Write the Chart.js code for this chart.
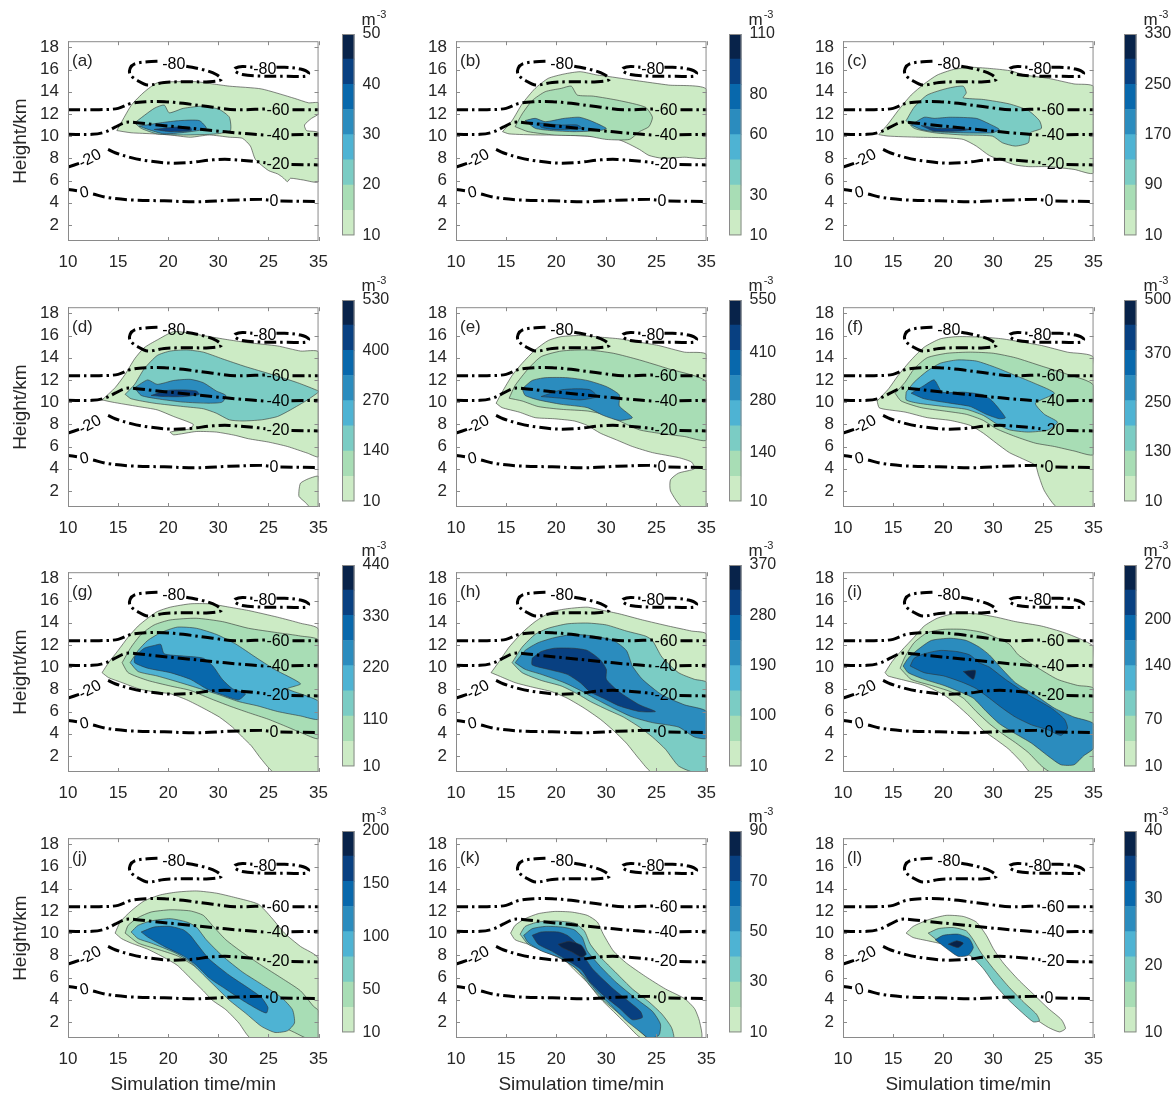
<!DOCTYPE html>
<html>
<head>
<meta charset="utf-8">
<script src="https://cdn.jsdelivr.net/npm/chart.js@4.4.1/dist/chart.umd.min.js"></script>
<style>
  body { margin: 0; background: #fff; width: 1175px; height: 1094px; position: relative; overflow: hidden; }
</style>
</head>
<body>
<script>
// axes
const xTickVals = [10, 15, 20, 25, 30, 35];
const xTickText = ['10', '15', '20', '30', '25', '35']; // printed as in the figure
const yTickVals = [2, 4, 6, 8, 10, 12, 14, 16, 18];
const gnbu = ['#ccebc5', '#a8ddb5', '#7bccc4', '#4eb3d3', '#2b8cbe', '#0868ac', '#084081', '#08234a'];

// isotherms (deg C), flat x,y lists in minutes / km, broken where the labels sit
const iso0L = [10, 5.2, 10.9, 5.08];
const iso0M = [12.5, 4.78, 14.0, 4.46, 16.3, 4.25, 19.6, 4.17, 22.8, 4.08, 26.1, 4.22, 29.3, 4.3, 30.0, 4.25];
const iso0R = [31.2, 4.15, 35, 4.11];
const iso20L = [10, 7.2, 11.1, 7.55];
const iso20M = [14.0, 8.8, 14.7, 8.5, 16.3, 8.06, 17.95, 7.77, 20.2, 7.57, 22.2, 7.63, 24.45, 7.86, 26.1, 7.9, 29.0, 7.68, 29.7, 7.6];
const iso20R = [32.3, 7.45, 35, 7.4];
const iso40L = [10, 10.16, 12.4, 10.16, 13.7, 10.36, 14.7, 10.8, 15.7, 11.23, 16.65, 11.23, 18.6, 11.03, 21.2, 10.8, 24.45, 10.5, 27.0, 10.28, 29.6, 10.1];
const iso40R = [32.3, 10.12, 35, 10.16];
const iso60L = [10, 12.38, 13.1, 12.38, 15.0, 12.5, 16.3, 12.95, 17.95, 13.1, 19.6, 13.1, 21.5, 12.95, 24.45, 12.6, 26.7, 12.38, 29.7, 12.45];
const iso60R = [32.4, 12.38, 35, 12.38];
const iso80A = [21.8, 16.3, 23.5, 15.98, 24.8, 15.55, 25.3, 15.1, 24.1, 14.9, 21.5, 14.9, 19.6, 14.83, 17.95, 14.6, 17.0, 14.97, 16.2, 15.55, 16.2, 16.1, 16.65, 16.5, 17.95, 16.7, 19.3, 16.75];
const iso80B = [30.8, 16.2, 31.6, 16.2, 33.2, 16.04, 34.0, 15.7, 33.8, 15.4, 31.9, 15.4, 29.3, 15.4, 27.4, 15.55, 26.6, 15.9, 26.7, 16.13, 27.4, 16.27, 28.4, 16.2];
const isoLines = [iso0L, iso0M, iso0R, iso20L, iso20M, iso20R, iso40L, iso40R, iso60L, iso60R, iso80A, iso80B];
const isoLabels = [
  ['-80', 20.55, 16.4, 0], ['-80', 29.64, 15.95, 0], ['-60', 30.95, 12.3, 0],
  ['-40', 30.95, 10.05, 0], ['-20', 30.95, 7.4, 0], ['0', 30.55, 4.1, 0],
  ['-20', 12.2, 7.95, -28], ['0', 11.65, 4.9, -12]
];

// colorbar ticks (m^-3)
const ticksA = [10, 20, 30, 40, 50];
const ticksB = [10, 30, 60, 80, 110];
const ticksC = [10, 90, 170, 250, 330];
const ticksD = [10, 140, 270, 400, 530];
const ticksE = [10, 140, 280, 410, 550];
const ticksF = [10, 130, 250, 370, 500];
const ticksG = [10, 110, 220, 330, 440];
const ticksH = [10, 100, 190, 280, 370];
const ticksI = [10, 70, 140, 200, 270];
const ticksJ = [10, 50, 100, 150, 200];
const ticksK = [10, 30, 50, 70, 90];
const ticksL = [10, 20, 30, 40];

// filled contours: one outline per level, x,y pairs
const levelsA = [10, 20, 30, 40];
const shapesA = [
  [14.87, 10.5, 16.33, 12.8, 17.6, 13.97, 18.9, 14.8, 20.55, 14.9, 22.8, 14.9, 24.45, 14.7, 26.1, 14.5, 29.3, 14.25, 32.6, 13.4, 34.0, 13.0, 35, 13.0, 35, 12.0, 34.3, 11.6, 33.6, 11.0, 33.8, 10.5, 35, 10.3, 35, 5.9, 33.5, 6.04, 32.2, 6.2, 31.9, 5.9, 31.4, 6.3, 30.9, 6.6, 30, 6.9, 28.7, 7.9, 28.2, 9.1, 27.4, 9.8, 26.1, 9.9, 24.1, 10.1, 22.2, 9.9, 20.2, 10.1, 18.6, 10.2, 16.3, 10.3],
  [16.65, 11.2, 18.6, 12.5, 19.6, 12.8, 20.1, 12.1, 21.5, 12.5, 23.5, 12.7, 25.1, 12.4, 26.1, 11.7, 26.2, 10.5, 24.8, 10.2, 21.5, 10.1, 18.9, 10.2, 17.3, 10.7],
  [17.1, 10.9, 19.25, 11.2, 21.2, 11.4, 23.1, 11.4, 23.8, 10.7, 22.2, 10.4, 19.6, 10.2, 18.0, 10.6],
  [18.6, 10.6, 20.55, 10.8, 22.2, 10.8, 22.3, 10.5, 20.2, 10.4]
];
const levelsB = [10, 30, 60, 80];
const shapesB = [
  [14.64, 10.4, 15.6, 11.4, 16.6, 12.9, 17.9, 14.3, 19.2, 15.2, 20.8, 15.6, 22.4, 15.8, 24.1, 15.5, 25.0, 15.4, 28, 15.0, 31.2, 14.6, 35, 14.2, 35, 8.1, 32.8, 8.1, 30.6, 8.0, 29.25, 8.26, 28.3, 8.8, 27.0, 9.4, 25.7, 9.85, 23.1, 10.0, 20.5, 10.1, 18.2, 10.1, 15.3, 10.2],
  [15.9, 10.85, 16.6, 12.0, 17.6, 13.2, 18.9, 14.0, 20.5, 14.3, 21.5, 14.5, 22.1, 13.7, 23.7, 13.6, 26.3, 13.2, 28.9, 12.6, 29.6, 11.7, 29.25, 10.85, 28.3, 10.4, 27.3, 9.7, 25.0, 9.7, 23.1, 10.0, 19.8, 10.1, 17.2, 10.4],
  [16.9, 11.4, 17.9, 11.6, 18.9, 11.3, 20.8, 11.6, 22.3, 11.7, 23.4, 11.4, 25.0, 10.7, 24.4, 10.5, 21.8, 10.4, 19.5, 10.5, 17.9, 10.7],
  [18.2, 11.2, 20.5, 11.0, 22.1, 11.0, 22.6, 10.7, 19.8, 10.6, 18.5, 10.8]
];
const levelsC = [10, 90, 170, 250];
const shapesC = [
  [13.57, 10.13, 14.5, 11.1, 15.5, 12.3, 16.8, 13.7, 18.1, 14.7, 19.4, 15.5, 21.0, 16.0, 22.7, 16.2, 24.6, 16.1, 26.6, 15.9, 28.2, 15.5, 30.5, 15.2, 33.05, 14.7, 35, 14.45, 35, 6.7, 33.05, 7.0, 30.5, 7.25, 28.5, 7.25, 27.2, 7.4, 25.9, 7.8, 24.6, 8.25, 23.3, 9.1, 22.0, 9.7, 20.1, 9.85, 17.5, 9.9, 14.5, 10.0],
  [16.3, 11.4, 17.1, 12.6, 18.4, 13.7, 20.4, 14.3, 22.0, 14.5, 22.3, 13.9, 22.0, 13.45, 24.0, 13.3, 26.6, 12.9, 28.5, 12.3, 29.6, 11.4, 29.8, 10.7, 28.7, 10.3, 28.5, 9.4, 27.2, 9.1, 25.9, 9.4, 24.9, 10.0, 22.0, 10.1, 19.1, 10.3, 17.1, 10.7],
  [16.8, 11.0, 18.1, 11.7, 19.1, 11.6, 20.7, 11.7, 23.3, 11.6, 24.6, 11.1, 25.6, 10.6, 24.9, 10.3, 22.0, 10.3, 19.1, 10.4, 17.8, 10.6],
  [17.8, 10.95, 19.4, 10.7, 21.4, 10.7, 22.7, 10.6, 21.4, 10.45, 19.1, 10.45]
];
const levelsD = [10, 10, 140, 270, 400];
const shapesD = [
  [13.4, 10.2, 14.7, 11.3, 15.7, 12.5, 16.65, 13.9, 17.6, 14.9, 18.9, 15.6, 20.55, 16.35, 22.2, 16.2, 24.1, 15.9, 26.1, 15.6, 28.0, 15.35, 30.9, 15.06, 33.2, 14.6, 35, 14.5, 35, 5.1, 33.9, 5.4, 31.9, 6.0, 30.0, 6.4, 28.0, 6.7, 26.7, 7.0, 24.8, 7.3, 22.8, 7.35, 20.55, 7.05, 20.2, 7.3, 22.2, 7.6, 22.5, 8.0, 20.55, 8.7, 18.9, 9.3, 17.0, 9.6, 14.4, 10.0],
  [33.05, 2.1, 33.2, 2.7, 34.0, 3.1, 35, 3.3, 35, 0.5, 34.2, 0.5, 33.7, 0.95, 33.05, 1.5],
  [15.7, 10.7, 16.65, 11.6, 17.6, 13.0, 18.9, 14.2, 20.2, 14.6, 21.85, 14.7, 23.5, 14.5, 25.4, 13.9, 27.7, 13.2, 30.3, 12.5, 32.9, 11.75, 35, 11.0, 35, 10.9, 33.9, 10.2, 32.2, 9.3, 30.9, 8.7, 29.3, 8.4, 27.4, 8.3, 26.1, 8.4, 24.8, 9.0, 23.5, 9.4, 21.5, 9.6, 18.6, 9.9, 16.3, 10.3],
  [16.65, 11.3, 17.95, 12.0, 18.9, 11.6, 20.55, 11.95, 22.2, 12.05, 23.5, 11.75, 24.8, 11.0, 25.75, 10.6, 25.4, 10.0, 24.1, 9.9, 21.5, 10.0, 18.9, 10.3, 17.3, 10.6],
  [18.3, 10.6, 19.9, 11.05, 21.5, 11.1, 22.8, 11.0, 23.1, 10.7, 21.5, 10.5, 19.6, 10.5]
];
const levelsE = [10, 140, 280, 410];
const shapesE = [
  [14.0, 9.9, 14.6, 10.9, 15.6, 12.4, 16.6, 13.5, 17.9, 14.7, 19.2, 15.55, 20.5, 15.9, 22.4, 16.0, 24.4, 15.85, 26.3, 15.7, 28.3, 15.4, 30.2, 15.1, 32.8, 14.5, 35, 14.25, 35, 0.5, 32.6, 0.5, 31.4, 2.0, 31.4, 3.0, 32.2, 3.6, 33.8, 4.0, 33.5, 4.6, 32.2, 5.0, 29.6, 5.45, 27.6, 6.0, 26.0, 6.6, 24.4, 7.2, 23.1, 7.9, 21.8, 8.3, 19.8, 8.5, 17.9, 8.6, 16.3, 9.1, 14.6, 9.5],
  [15.3, 10.35, 15.9, 11.5, 17.2, 13.0, 18.5, 14.1, 20.5, 14.6, 23.1, 14.7, 25.7, 14.4, 28.3, 13.8, 31.2, 13.0, 35, 11.8, 35, 6.6, 32.8, 6.9, 30.2, 7.2, 28.3, 7.5, 26.3, 8.3, 24.7, 8.9, 23.1, 9.2, 20.5, 9.35, 18.2, 9.6, 16.6, 10.1],
  [16.6, 11.2, 17.6, 11.95, 18.9, 12.2, 21.1, 12.2, 23.1, 11.95, 25.0, 11.4, 26.3, 10.65, 26.3, 9.65, 27.6, 8.6, 26.3, 8.35, 24.7, 8.8, 23.1, 9.5, 20.5, 9.8, 18.2, 10.2, 16.9, 10.6],
  [18.5, 10.5, 20.5, 11.1, 22.1, 11.2, 23.4, 11.1, 24.1, 10.5, 22.4, 10.2, 20.5, 10.35]
];
const levelsF = [10, 130, 250, 370];
const shapesF = [
  [13.4, 10.1, 14.55, 11.2, 15.5, 12.4, 16.8, 13.8, 18.1, 14.95, 19.7, 15.7, 21.4, 15.9, 24.0, 15.85, 25.9, 15.7, 27.9, 15.4, 29.8, 15.1, 32.4, 14.5, 35, 14.0, 35, 0.5, 31.4, 0.5, 30.1, 2.0, 29.5, 3.45, 29.2, 4.3, 27.9, 4.9, 26.6, 5.45, 25.3, 6.3, 24.0, 7.2, 22.7, 7.9, 20.7, 8.35, 18.4, 8.6, 16.2, 9.1, 14.2, 9.35, 13.6, 9.5],
  [15.2, 10.8, 16.2, 11.8, 17.1, 13.0, 18.4, 14.0, 20.4, 14.4, 22.7, 14.5, 25.0, 14.4, 27.2, 14.0, 29.8, 13.25, 32.4, 12.5, 35, 11.5, 35, 5.3, 33.05, 5.6, 31.1, 6.0, 29.2, 6.3, 27.2, 6.9, 25.3, 7.6, 24.0, 8.35, 22.3, 8.9, 20.1, 9.2, 17.8, 9.5, 15.8, 10.1],
  [16.3, 10.9, 17.1, 11.8, 18.4, 12.8, 19.7, 13.5, 21.4, 13.8, 23.3, 13.7, 25.3, 13.1, 27.2, 12.4, 29.2, 11.66, 31.1, 10.8, 29.2, 9.9, 30.1, 8.9, 31.4, 8.2, 30.5, 7.5, 28.5, 7.3, 26.6, 7.5, 25.3, 8.06, 24.0, 8.8, 22.3, 9.35, 20.1, 9.6, 17.5, 9.9, 16.3, 10.2],
  [16.8, 10.8, 18.1, 11.5, 19.1, 12.0, 19.9, 10.9, 22.0, 10.9, 24.0, 10.65, 24.9, 10.1, 26.2, 8.6, 25.6, 8.5, 24.3, 8.9, 22.7, 9.6, 20.7, 9.9, 18.1, 10.3]
];
const levelsG = [10, 110, 220, 330];
const shapesG = [
  [13.4, 9.5, 14.05, 10.4, 15.0, 11.5, 16.0, 12.7, 17.0, 13.7, 17.95, 14.4, 18.9, 15.0, 20.2, 15.4, 22.2, 15.7, 24.1, 15.7, 26.1, 15.4, 28.0, 15.1, 30.9, 14.5, 33.2, 13.95, 35, 13.4, 35, 0.5, 30.6, 0.5, 29.3, 1.7, 28.3, 2.9, 27.4, 3.7, 26.4, 4.6, 25.1, 5.5, 23.5, 6.3, 21.85, 7.05, 20.2, 7.6, 18.6, 7.76, 17.0, 8.06, 15.4, 8.6, 14.05, 9.05],
  [15.4, 10.4, 16.3, 11.8, 17.3, 12.95, 18.6, 13.8, 20.2, 14.25, 22.8, 14.4, 25.4, 14.1, 28.0, 13.5, 30.9, 13.1, 33.2, 12.8, 35, 12.4, 35, 3.6, 33.5, 4.0, 31.9, 4.6, 30.0, 5.3, 28.0, 5.9, 26.1, 6.5, 24.1, 7.2, 22.2, 7.9, 20.2, 8.3, 17.95, 8.8, 16.0, 9.5],
  [16.2, 10.4, 17.0, 11.5, 17.95, 12.4, 19.25, 13.1, 20.9, 13.6, 22.8, 13.5, 24.8, 12.95, 26.7, 12.1, 28.7, 10.9, 30.6, 9.8, 33.2, 8.5, 31.9, 8.05, 33.5, 7.5, 35, 6.9, 35, 5.3, 33.2, 5.6, 30.9, 6.0, 28.95, 6.5, 27.0, 6.9, 25.1, 7.5, 23.15, 8.06, 21.2, 8.6, 18.9, 9.2, 17.0, 9.6],
  [16.65, 10.95, 17.6, 11.7, 18.6, 11.95, 19.25, 12.05, 19.6, 11.2, 21.5, 11.0, 23.5, 10.8, 24.45, 10.1, 25.4, 8.9, 26.4, 8.06, 27.7, 7.6, 27.0, 7.05, 25.4, 7.5, 23.8, 8.06, 22.2, 8.9, 20.2, 9.5, 17.95, 9.9, 16.65, 10.4]
];
const levelsH = [10, 100, 190, 280];
const shapesH = [
  [13.5, 9.5, 14.3, 10.5, 15.3, 11.8, 16.6, 13.1, 17.9, 14.1, 19.5, 14.97, 21.1, 15.26, 23.1, 15.4, 24.7, 15.1, 26.3, 14.8, 28.6, 14.25, 31.2, 13.7, 33.5, 13.25, 35, 12.95, 35, 0.5, 29.6, 0.5, 28.3, 1.7, 27.0, 3.15, 25.7, 4.3, 24.4, 5.3, 22.8, 6.3, 21.1, 7.2, 19.5, 7.8, 17.6, 8.2, 15.9, 8.6, 14.3, 9.2],
  [15.6, 10.4, 16.6, 11.8, 17.9, 12.95, 19.2, 13.5, 21.1, 13.9, 23.1, 13.97, 25.0, 13.8, 27.0, 13.25, 28.9, 12.8, 29.6, 12.4, 30.55, 10.9, 32.2, 9.5, 33.8, 8.9, 35, 8.6, 35, 0.7, 33.8, 0.5, 32.2, 1.1, 30.9, 2.6, 29.6, 3.7, 28.3, 4.6, 26.7, 5.5, 25.0, 6.2, 23.4, 6.9, 22.1, 7.6, 20.5, 8.3, 18.5, 8.8, 16.6, 9.5],
  [15.9, 10.4, 16.9, 11.5, 18.2, 12.2, 19.8, 12.65, 21.7, 12.95, 23.7, 12.8, 25.7, 12.4, 27.0, 11.5, 27.6, 10.1, 28.6, 8.9, 30.55, 7.5, 32.8, 6.6, 35, 6.0, 35, 3.6, 33.8, 3.7, 32.2, 4.6, 29.6, 5.0, 27.6, 5.5, 25.7, 6.3, 24.1, 7.05, 22.4, 7.9, 20.8, 8.6, 18.5, 9.35, 16.9, 9.8],
  [17.6, 10.8, 18.5, 11.4, 19.8, 11.7, 21.7, 11.7, 23.1, 11.5, 24.4, 10.65, 25.0, 9.8, 25.0, 8.9, 26.3, 7.76, 28.3, 6.6, 29.9, 6.0, 28.3, 6.0, 26.3, 6.5, 24.7, 7.2, 23.4, 7.76, 22.4, 8.6, 21.1, 9.35, 19.2, 9.8, 17.6, 10.2]
];
const levelsI = [10, 70, 140, 200, 270];
const shapesI = [
  [14.2, 9.5, 14.9, 10.5, 15.85, 11.5, 17.1, 12.7, 18.1, 13.7, 19.4, 14.4, 21.0, 14.8, 23.3, 14.8, 25.3, 14.5, 27.2, 14.1, 29.8, 13.7, 32.1, 13.1, 34.0, 12.4, 35, 11.8, 35, 0.5, 28.75, 0.5, 27.85, 1.4, 26.55, 2.6, 25.3, 3.45, 24.0, 4.3, 22.7, 5.5, 21.35, 6.6, 20.06, 7.5, 18.1, 8.35, 16.2, 8.8, 14.5, 9.2],
  [15.7, 9.9, 16.2, 10.95, 17.1, 12.2, 18.4, 13.1, 20.06, 13.4, 22.0, 13.4, 24.0, 13.1, 26.55, 12.1, 27.5, 11.1, 29.15, 10.1, 31.4, 8.9, 33.4, 8.35, 35, 8.06, 35, 0.5, 30.8, 0.5, 29.8, 1.1, 28.5, 2.3, 27.2, 3.2, 25.9, 4.0, 24.6, 4.9, 23.3, 6.0, 22.0, 7.2, 20.7, 7.8, 18.8, 8.35, 16.8, 8.9],
  [16.0, 10.1, 16.5, 10.8, 17.5, 11.6, 18.8, 12.4, 20.7, 12.6, 22.3, 12.4, 23.6, 11.8, 24.6, 11.1, 25.9, 9.8, 27.2, 8.6, 29.15, 7.5, 31.1, 6.3, 33.05, 5.5, 35, 4.9, 35, 2.7, 34.0, 2.0, 33.05, 1.2, 31.75, 1.2, 30.45, 2.0, 28.8, 3.15, 27.2, 4.0, 25.6, 4.9, 24.3, 6.0, 23.0, 7.2, 21.7, 7.76, 20.06, 8.35, 18.1, 8.9, 16.5, 9.5],
  [16.7, 10.1, 17.1, 10.8, 18.1, 11.2, 19.7, 11.5, 21.35, 11.4, 22.65, 11.1, 23.6, 10.4, 24.6, 10.0, 26.2, 8.9, 28.5, 7.5, 30.8, 6.3, 32.1, 5.3, 32.4, 4.5, 31.75, 3.85, 30.45, 4.35, 28.8, 4.8, 27.2, 5.5, 25.9, 6.3, 24.6, 7.2, 23.3, 8.06, 22.0, 8.6, 20.06, 9.2, 18.1, 9.5],
  [22.0, 9.6, 23.2, 9.7, 23.0, 8.9]
];
const levelsJ = [10, 50, 100, 150];
const shapesJ = [
  [14.7, 10.0, 15.2, 11.0, 16.3, 12.0, 17.6, 12.9, 19.25, 13.45, 20.9, 13.7, 22.8, 13.8, 24.8, 13.6, 26.7, 13.2, 29.0, 12.6, 30.3, 11.4, 31.6, 10.0, 33.2, 8.8, 35, 7.7, 35, 0.5, 28.3, 0.5, 27.05, 1.9, 25.75, 3.1, 24.4, 3.95, 23.5, 4.8, 22.2, 5.95, 20.9, 7.1, 19.6, 7.8, 17.95, 8.55, 16.3, 9.1, 15.35, 9.5],
  [15.7, 10.0, 16.0, 10.7, 17.0, 11.4, 18.3, 11.9, 20.2, 12.1, 22.2, 12.0, 23.5, 11.6, 24.4, 10.7, 25.75, 9.4, 27.4, 8.26, 29.3, 7.1, 31.3, 5.95, 33.2, 4.8, 34.5, 3.4, 35, 3.0, 35, 0.5, 33.9, 0.5, 32.6, 1.05, 31.3, 1.6, 29.3, 2.5, 27.4, 3.6, 25.75, 4.8, 24.1, 5.95, 22.5, 7.1, 20.9, 7.95, 18.9, 8.55, 17.0, 9.1],
  [16.3, 10.1, 17.0, 10.7, 18.3, 11.1, 20.2, 11.3, 21.85, 11.0, 22.8, 10.55, 23.8, 9.4, 25.4, 7.95, 27.4, 6.5, 29.3, 5.4, 31.3, 4.2, 32.4, 3.1, 32.6, 1.9, 31.9, 1.2, 30.65, 1.05, 29.3, 1.6, 27.7, 2.8, 26.1, 3.95, 24.8, 5.1, 23.5, 6.25, 22.2, 7.4, 20.6, 8.26, 18.3, 9.1, 17.0, 9.5],
  [17.3, 10.1, 18.6, 10.55, 20.2, 10.6, 21.5, 10.3, 22.2, 9.8, 22.8, 9.1, 24.1, 7.65, 26.1, 6.2, 28.0, 5.05, 29.3, 4.2, 29.95, 3.3, 29.8, 2.8, 29.0, 3.1, 27.4, 3.95, 25.75, 4.95, 24.1, 5.95, 22.8, 7.1, 21.5, 7.95, 19.6, 8.8, 17.95, 9.65]
];
const levelsK = [10, 30, 50, 70, 90];
const shapesK = [
  [15.45, 10.0, 15.9, 10.7, 16.9, 11.3, 18.2, 11.75, 19.8, 11.95, 21.5, 11.9, 23.1, 11.6, 24.1, 11.0, 24.7, 9.9, 25.7, 8.4, 27.0, 7.3, 28.9, 6.1, 30.9, 4.97, 32.8, 4.1, 33.8, 3.2, 34.3, 2.05, 34.45, 0.5, 28.6, 0.5, 27.0, 1.8, 25.7, 2.95, 24.4, 4.1, 23.1, 5.55, 21.8, 6.7, 20.5, 7.85, 18.9, 8.4, 17.2, 9.0, 15.9, 9.4],
  [16.4, 9.9, 16.9, 10.6, 18.2, 11.0, 19.8, 11.1, 21.8, 10.9, 22.8, 10.2, 23.4, 9.0, 24.4, 7.85, 26.0, 6.4, 27.6, 4.97, 29.25, 3.8, 30.55, 2.7, 31.5, 1.5, 31.7, 0.5, 29.25, 0.5, 27.95, 1.5, 26.35, 2.7, 24.7, 3.95, 23.4, 5.25, 22.1, 6.7, 20.8, 7.55, 18.9, 8.3, 17.2, 9.0],
  [16.75, 9.8, 17.6, 10.4, 18.9, 10.6, 20.5, 10.55, 21.8, 10.3, 22.6, 9.6, 23.1, 8.4, 24.4, 7.0, 26.0, 5.55, 27.95, 4.1, 29.6, 2.95, 30.4, 1.8, 30.25, 0.8, 29.25, 0.5, 28.6, 0.95, 27.0, 2.1, 25.4, 3.55, 24.1, 4.7, 22.8, 6.1, 21.8, 6.95, 20.2, 7.85, 18.5, 8.4, 17.2, 9.15],
  [17.6, 9.8, 18.5, 10.1, 20.2, 10.1, 21.1, 9.8, 22.1, 9.0, 22.8, 7.85, 23.7, 6.7, 25.7, 4.97, 27.3, 3.8, 28.4, 2.95, 28.6, 2.4, 27.6, 2.2, 26.35, 3.2, 24.7, 4.4, 23.4, 5.55, 22.5, 6.7, 21.1, 7.55, 19.5, 8.4, 18.2, 9.0],
  [20.2, 9.0, 21.3, 9.25, 22.5, 8.9, 23.0, 8.1, 22.5, 7.85, 21.6, 8.3, 20.6, 8.7]
];
const levelsL = [10, 20, 30, 40];
const shapesL = [
  [16.3, 10.0, 17.0, 10.6, 18.5, 11.2, 20.3, 11.6, 22.0, 11.5, 23.3, 11.0, 24.3, 9.8, 25.0, 8.6, 26.0, 7.3, 27.5, 5.8, 29.0, 4.5, 30.5, 3.2, 31.8, 2.2, 32.2, 1.4, 31.6, 1.1, 30.5, 1.5, 29.0, 2.4, 27.5, 3.6, 26.3, 4.8, 25.0, 6.2, 23.8, 7.5, 22.5, 8.3, 20.5, 8.9, 18.5, 9.3, 17.0, 9.6],
  [18.5, 10.0, 19.5, 10.4, 21.0, 10.5, 22.3, 10.2, 23.0, 9.4, 23.8, 8.2, 25.0, 6.8, 26.5, 5.2, 28.0, 3.8, 29.3, 2.7, 29.6, 2.1, 29.0, 2.0, 27.8, 2.9, 26.5, 4.0, 25.2, 5.3, 24.0, 6.8, 22.8, 7.9, 21.0, 8.7, 19.5, 9.3],
  [19.2, 9.4, 20.0, 9.8, 21.5, 9.9, 22.6, 9.5, 23.0, 8.7, 22.5, 8.0, 21.5, 7.9, 20.5, 8.5],
  [20.5, 9.0, 21.3, 9.3, 22.0, 9.1, 21.5, 8.7]
];

const panels = [
  { tag: '(a)', levels: levelsA, shapes: shapesA, ticks: ticksA },
  { tag: '(b)', levels: levelsB, shapes: shapesB, ticks: ticksB },
  { tag: '(c)', levels: levelsC, shapes: shapesC, ticks: ticksC },
  { tag: '(d)', levels: levelsD, shapes: shapesD, ticks: ticksD },
  { tag: '(e)', levels: levelsE, shapes: shapesE, ticks: ticksE },
  { tag: '(f)', levels: levelsF, shapes: shapesF, ticks: ticksF },
  { tag: '(g)', levels: levelsG, shapes: shapesG, ticks: ticksG },
  { tag: '(h)', levels: levelsH, shapes: shapesH, ticks: ticksH },
  { tag: '(i)', levels: levelsI, shapes: shapesI, ticks: ticksI },
  { tag: '(j)', levels: levelsJ, shapes: shapesJ, ticks: ticksJ },
  { tag: '(k)', levels: levelsK, shapes: shapesK, ticks: ticksK },
  { tag: '(l)', levels: levelsL, shapes: shapesL, ticks: ticksL }
];

// page layout
const colLeft = [68, 456, 843];
const rowTop = [34, 300, 565, 831];
const cbLeft = [342, 729, 1124];
const PW = 257, PH = 207, CBW = 12.5;
const FONT = '"Liberation Sans", Arial, Helvetica, sans-serif';

Chart.defaults.font.family = FONT;
Chart.defaults.color = '#262626';

function makeCanvas(left, top, w, h) {
  const c = document.createElement('canvas');
  c.width = w;
  c.height = h;
  c.style.cssText = `position:absolute;left:${left}px;top:${top}px;width:${w}px;height:${h}px`;
  document.body.appendChild(c);
  return c;
}

function toPts(flat, close) {
  const out = [];
  for (let i = 0; i < flat.length; i += 2) out.push({ x: flat[i], y: flat[i + 1] });
  if (close) out.push({ x: flat[0], y: flat[1] });
  return out;
}

function levelColor(lev, ticks) {
  const lo = ticks[0], hi = ticks[ticks.length - 1];
  const k = Math.floor((lev - lo) / (hi - lo) * 8 + 1e-6);
  return gnbu[Math.max(0, Math.min(7, k))];
}

// box + inward ticks like the matlab axes
const framePlugin = {
  id: 'frame',
  afterDatasetsDraw(chart, args, opts) {
    const { ctx, chartArea: a, scales } = chart;
    ctx.save();
    ctx.strokeStyle = '#8a8a8a';
    ctx.lineWidth = 1;
    ctx.strokeRect(a.left + 0.5, a.top + 0.5, a.width - 1, a.height - 1);
    if (opts.ticks) {
      ctx.beginPath();
      scales.x.ticks.forEach(t => {
        const px = Math.round(scales.x.getPixelForValue(t.value)) + 0.5;
        ctx.moveTo(px, a.bottom); ctx.lineTo(px, a.bottom - 4);
        ctx.moveTo(px, a.top); ctx.lineTo(px, a.top + 4);
      });
      scales.y.ticks.forEach(t => {
        const py = Math.round(scales.y.getPixelForValue(t.value)) + 0.5;
        ctx.moveTo(a.left, py); ctx.lineTo(a.left + 4, py);
        ctx.moveTo(a.right, py); ctx.lineTo(a.right - 4, py);
      });
      ctx.stroke();
    }
    ctx.restore();
  }
};

// isotherm labels and panel letter
const textPlugin = {
  id: 'isoText',
  afterDatasetsDraw(chart, args, opts) {
    const { ctx, chartArea: a, scales: { x, y } } = chart;
    ctx.save();
    ctx.beginPath();
    ctx.rect(a.left, a.top, a.width, a.height);
    ctx.clip();
    ctx.fillStyle = '#000';
    ctx.font = '16px ' + FONT;
    ctx.textAlign = 'center';
    ctx.textBaseline = 'middle';
    isoLabels.forEach(([t, xv, yv, rot]) => {
      ctx.save();
      ctx.translate(x.getPixelForValue(xv), y.getPixelForValue(yv));
      ctx.rotate(rot * Math.PI / 180);
      ctx.fillText(t, 0, 0);
      ctx.restore();
    });
    ctx.fillStyle = '#262626';
    ctx.font = '17px ' + FONT;
    ctx.textAlign = 'left';
    ctx.fillText(opts.tag, a.left + 4, a.top + 20);
    ctx.restore();
  }
};

// "m-3" unit above each colorbar
const unitPlugin = {
  id: 'unit',
  afterDraw(chart) {
    const { ctx, chartArea: a } = chart;
    ctx.save();
    ctx.fillStyle = '#262626';
    ctx.textBaseline = 'alphabetic';
    ctx.textAlign = 'left';
    ctx.font = '17px ' + FONT;
    ctx.fillText('m', a.left + 19.5, a.top - 9);
    const w = ctx.measureText('m').width;
    ctx.font = '11px ' + FONT;
    ctx.fillText('-3', a.left + 20.5 + w, a.top - 16);
    ctx.restore();
  }
};

function drawPanel(p, i) {
  const col = i % 3, row = Math.floor(i / 3);
  const bottomRow = row === 3;
  const L = 60, T = 12, R = 14, B = bottomRow ? 62 : 32;
  const cv = makeCanvas(colLeft[col] - L, rowTop[row] - T, L + PW + R, T + PH + B);

  const datasets = [];
  p.shapes.forEach((ring, k) => {
    datasets.push({
      data: toPts(ring, true),
      fill: 'shape',
      backgroundColor: levelColor(p.levels[k], p.ticks),
      borderColor: '#333333',
      borderWidth: 0.6,
      tension: 0.2,
      order: 100 - k
    });
  });
  isoLines.forEach(seg => {
    datasets.push({
      data: toPts(seg, false),
      fill: false,
      borderColor: '#000',
      borderWidth: 3,
      borderDash: [12, 4, 2.5, 4],
      tension: 0.35,
      order: 0
    });
  });

  new Chart(cv, {
    type: 'line',
    data: { datasets },
    options: {
      responsive: false,
      animation: false,
      devicePixelRatio: 1,
      layout: { padding: { left: 0, top: T, right: R, bottom: 0 } },
      elements: { point: { radius: 0 }, line: { borderJoinStyle: 'round' } },
      plugins: {
        legend: { display: false },
        tooltip: { enabled: false },
        frame: { ticks: true },
        isoText: { tag: p.tag }
      },
      scales: {
        x: {
          type: 'linear',
          min: 10,
          max: 35,
          afterFit: s => { s.height = B; },
          afterBuildTicks: s => { s.ticks = xTickVals.map(v => ({ value: v })); },
          grid: { display: false, drawTicks: false },
          border: { display: false },
          ticks: {
            padding: 11,
            autoSkip: false,
            maxRotation: 0,
            font: { size: 17 },
            color: '#262626',
            callback: (v, idx) => xTickText[idx]
          },
          title: {
            display: bottomRow,
            text: 'Simulation time/min',
            font: { size: 19 },
            color: '#262626',
            padding: { top: 0, bottom: 4 }
          }
        },
        y: {
          min: 0.55,
          max: 18.55,
          afterFit: s => { s.width = L; },
          afterBuildTicks: s => { s.ticks = yTickVals.map(v => ({ value: v })); },
          grid: { display: false, drawTicks: false },
          border: { display: false },
          ticks: { padding: 9, font: { size: 17 }, color: '#262626' },
          title: {
            display: col === 0,
            text: 'Height/km',
            font: { size: 19 },
            color: '#262626',
            padding: { top: 1, bottom: 0 }
          }
        }
      }
    },
    plugins: [framePlugin, textPlugin]
  });
}

function drawColorbar(p, i) {
  const col = i % 3, row = Math.floor(i / 3);
  const lo = p.ticks[0], hi = p.ticks[p.ticks.length - 1];
  const st = (hi - lo) / gnbu.length;
  const W = 50, T = 28;
  const cv = makeCanvas(cbLeft[col], rowTop[row] - T, W, T + PH + 12);
  new Chart(cv, {
    type: 'bar',
    data: {
      labels: [''],
      datasets: gnbu.map((c, k) => ({
        data: [[lo + k * st, lo + (k + 1) * st]],
        backgroundColor: c,
        borderWidth: 0,
        grouped: false,
        barPercentage: 1,
        categoryPercentage: 1
      }))
    },
    options: {
      responsive: false,
      animation: false,
      devicePixelRatio: 1,
      layout: { padding: { left: 0, top: T, right: 0, bottom: 12 } },
      plugins: {
        legend: { display: false },
        tooltip: { enabled: false },
        frame: { ticks: false }
      },
      scales: {
        x: { display: false },
        y: {
          position: 'right',
          min: lo,
          max: hi,
          afterFit: s => { s.width = W - CBW; },
          afterBuildTicks: s => { s.ticks = p.ticks.map(v => ({ value: v })); },
          grid: { display: false, drawTicks: false },
          border: { display: false },
          ticks: { padding: 8, font: { size: 16 }, color: '#262626' }
        }
      }
    },
    plugins: [framePlugin, unitPlugin]
  });
}

panels.forEach((p, i) => {
  drawPanel(p, i);
  drawColorbar(p, i);
});
</script>
</body>
</html>
